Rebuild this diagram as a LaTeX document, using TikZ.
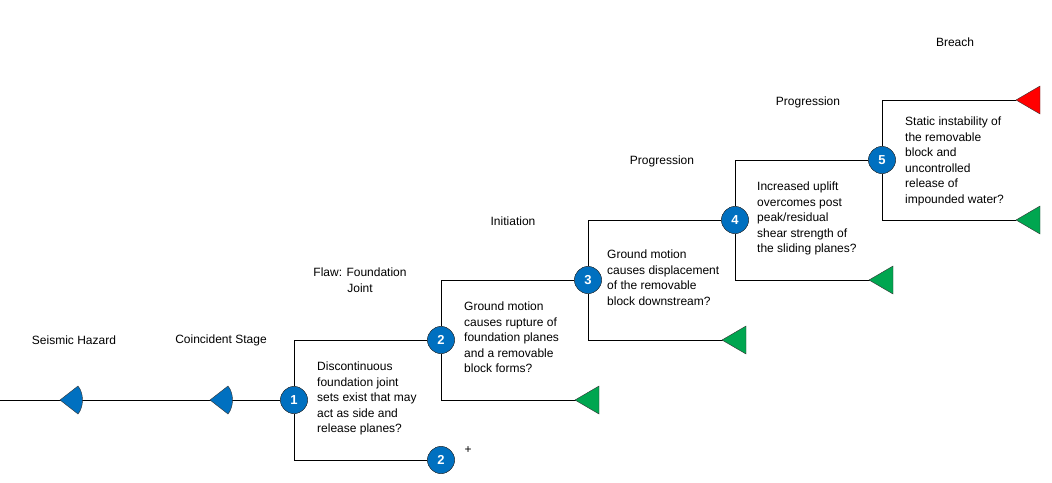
\documentclass[tikz,border=0pt]{standalone}
\usepackage{fontspec}
\setmainfont{Liberation Sans}
\definecolor{nblue}{HTML}{0070C0}
\definecolor{tgreen}{HTML}{00A650}
\definecolor{tred}{HTML}{FF0000}
\begin{document}
\begin{tikzpicture}[x=1pt,y=-1pt,
  every node/.style={font=\fontsize{12}{15.5}\selectfont},
  num/.style={circle,draw=black!80,fill=nblue,text=white,minimum size=27pt,inner sep=0pt,font=\fontsize{13}{13}\selectfont\bfseries},
  lbl/.style={align=center},
  q/.style={align=left,anchor=north west,inner sep=0pt},
  ln/.style={line width=0.8pt}]
\useasboundingbox (0,0) rectangle (1052,482);
\newcommand\semi[2]{\fill[nblue,draw=black!80] (#1-12,#2) -- (#1+6,#2-14) .. controls (#1+12,#2-7) and (#1+12,#2+7) .. (#1+6,#2+14) -- cycle;}
\newcommand\tri[3]{\fill[#3,draw=black!80] (#1-12,#2) -- (#1+12,#2-14) -- (#1+12,#2+14) -- cycle;}
% nodes
\node[num] (n1) at (294,400) {1};
\node[num] (n2) at (441,340) {2};
\node[num] (n2b) at (441,460) {2};
\node[num] (n3) at (588,280) {3};
\node[num] (n4) at (735,220) {4};
\node[num] (n5) at (882,160) {5};
\coordinate (s0) at (0,400);
\coordinate (e2) at (576,400);
\coordinate (e3) at (723,340);
\coordinate (e4) at (870,280);
\coordinate (e5a) at (1016,100);
\coordinate (e5b) at (1016,220);
% lines
\draw[ln] (s0) -- (n1);
\draw[ln] (n1) -- (294,340) -- (n2);
\draw[ln] (n1) -- (294,460) -- (n2b);
\draw[ln] (n2) -- (441,280) -- (n3);
\draw[ln] (n2) -- (441,400) -- (e2);
\draw[ln] (n3) -- (588,220) -- (n4);
\draw[ln] (n3) -- (588,340) -- (e3);
\draw[ln] (n4) -- (735,160) -- (n5);
\draw[ln] (n4) -- (735,280) -- (e4);
\draw[ln] (n5) -- (882,100) -- (e5a);
\draw[ln] (n5) -- (882,220) -- (e5b);
\semi{72}{400}
\semi{222}{400}
\tri{587}{400}{tgreen}
\tri{734}{340}{tgreen}
\tri{881}{280}{tgreen}
\tri{1028}{100}{tred}
\tri{1028}{220}{tgreen}
\node[num] at (294,400) {1};
\node[num] at (441,340) {2};
\node[num] at (441,460) {2};
\node[num] at (588,280) {3};
\node[num] at (735,220) {4};
\node[num] at (882,160) {5};
% labels
\node[lbl] (l1) at (74,340) {Seismic Hazard};
\node[lbl] (l2) at (221,340) {Coincident Stage};
\node[lbl] (l3) at (360,280) {Flaw: Foundation\\Joint};
\node[lbl] (l4) at (513,221) {Initiation};
\node[lbl] (l5) at (662,161) {Progression};
\node[lbl] (l6) at (808,102) {Progression};
\node[lbl] (l7) at (955,42) {Breach};
\node (plus) at (468,450) {+};
\node[q] (q1) at (317,362) {Discontinuous\\foundation joint\\sets exist that may\\act as side and\\release planes?};
\node[q] (q2) at (464,302) {Ground motion\\causes rupture of\\foundation planes\\and a removable\\block forms?};
\node[q] (q3) at (607,250) {Ground motion\\causes displacement\\of the removable\\block downstream?};
\node[q] (q4) at (757,182) {Increased uplift\\overcomes post\\peak/residual\\shear strength of\\the sliding planes?};
\node[q] (q5) at (905,117) {Static instability of\\the removable\\block and\\uncontrolled\\release of\\impounded water?};
\end{tikzpicture}
\end{document}
